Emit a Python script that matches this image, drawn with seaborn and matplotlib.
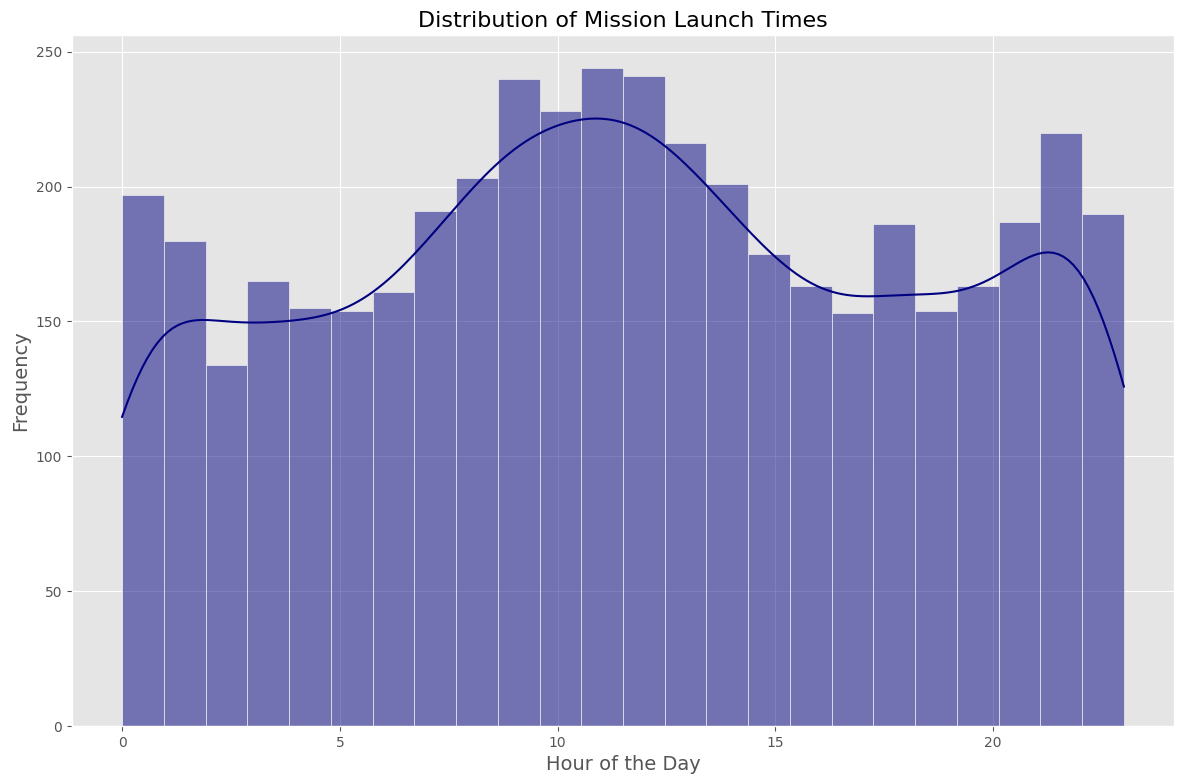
import numpy as np
import pandas as pd
import matplotlib
matplotlib.use("Agg")
import matplotlib.pyplot as plt
import seaborn as sns

plt.style.use("ggplot")

hours = list(range(24))
counts = [197, 180, 134, 165, 155, 154, 161, 191, 203, 240, 228, 244,
          241, 216, 201, 175, 163, 153, 186, 154, 163, 187, 220, 190]

df = pd.DataFrame({"hour": np.repeat(hours, counts)})

fig, ax = plt.subplots(figsize=(11.84, 7.84), dpi=100)
sns.histplot(data=df, x="hour", bins=24, kde=True, color="navy", ax=ax)
ax.set_title("Distribution of Mission Launch Times", fontsize=16)
ax.set_xlabel("Hour of the Day", fontsize=14)
ax.set_ylabel("Frequency", fontsize=14)
fig.subplots_adjust(left=72/1184, right=1174/1184, top=1-35/784, bottom=1-726/784)
fig.savefig("out.png", dpi=100)
